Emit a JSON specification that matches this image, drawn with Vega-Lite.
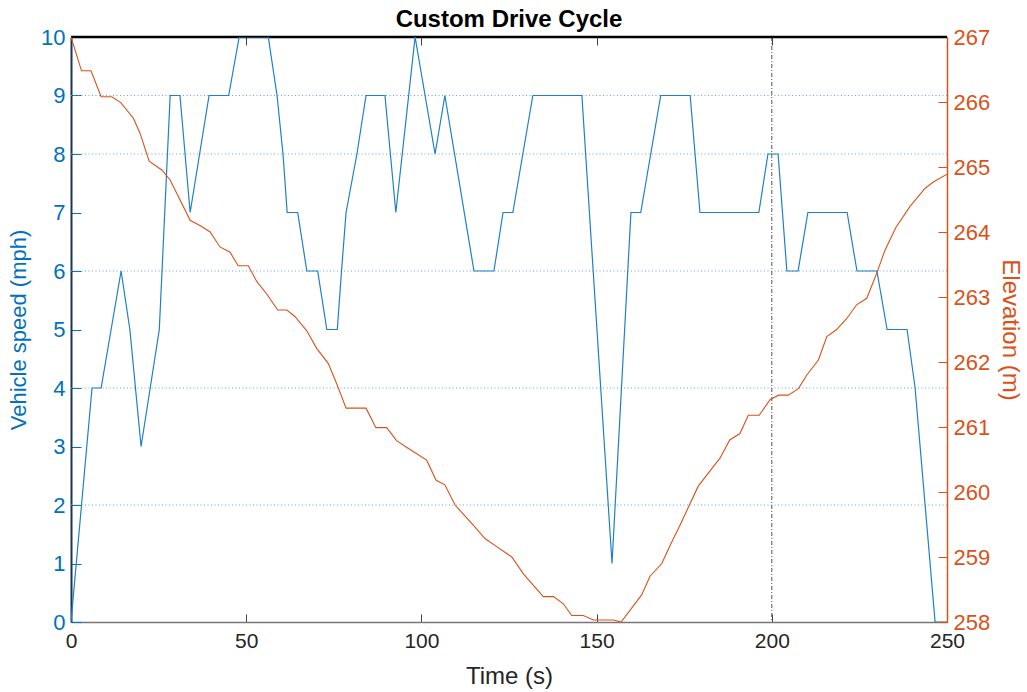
{
  "$schema": "https://vega.github.io/schema/vega-lite/v6.json",
  "width": 876,
  "height": 585,
  "autosize": {"type": "none"},
  "padding": {"left": 71, "top": 37, "right": 80, "bottom": 70},
  "background": "white",
  "title": {
    "text": "Custom Drive Cycle",
    "font": "Liberation Sans",
    "fontSize": 24,
    "fontWeight": "bold",
    "color": "#000000",
    "offset": -6
  },
  "config": {
    "view": {"stroke": null},
    "axis": {
      "labelFont": "Liberation Sans",
      "titleFont": "Liberation Sans",
      "grid": false
    }
  },
  "datasets": {
    "speed": [
      {"t": 0, "v": 0}, {"t": 6, "v": 4}, {"t": 8.6, "v": 4}, {"t": 14.3, "v": 6},
      {"t": 16.8, "v": 5}, {"t": 20, "v": 3}, {"t": 25.2, "v": 5}, {"t": 28.3, "v": 9},
      {"t": 31.1, "v": 9}, {"t": 34, "v": 7}, {"t": 39.4, "v": 9}, {"t": 45, "v": 9},
      {"t": 48, "v": 10}, {"t": 56.3, "v": 10}, {"t": 58.8, "v": 9}, {"t": 60.5, "v": 8},
      {"t": 61.7, "v": 7}, {"t": 64.7, "v": 7}, {"t": 67.3, "v": 6}, {"t": 70.4, "v": 6},
      {"t": 73, "v": 5}, {"t": 76, "v": 5}, {"t": 77.2, "v": 6}, {"t": 78.5, "v": 7},
      {"t": 81.6, "v": 8}, {"t": 84.2, "v": 9}, {"t": 89.6, "v": 9}, {"t": 92.7, "v": 7},
      {"t": 98.2, "v": 10}, {"t": 103.9, "v": 8}, {"t": 106.7, "v": 9}, {"t": 115, "v": 6},
      {"t": 120.7, "v": 6}, {"t": 123.3, "v": 7}, {"t": 126.1, "v": 7}, {"t": 131.8, "v": 9},
      {"t": 145.8, "v": 9}, {"t": 154.4, "v": 1}, {"t": 159.8, "v": 7}, {"t": 162.6, "v": 7},
      {"t": 168.3, "v": 9}, {"t": 176.7, "v": 9}, {"t": 179.5, "v": 7}, {"t": 196.3, "v": 7},
      {"t": 198.9, "v": 8}, {"t": 201.8, "v": 8}, {"t": 204.3, "v": 6}, {"t": 207.5, "v": 6},
      {"t": 210.3, "v": 7}, {"t": 221.5, "v": 7}, {"t": 224.3, "v": 6}, {"t": 230, "v": 6},
      {"t": 232.9, "v": 5}, {"t": 238.6, "v": 5}, {"t": 240.9, "v": 4}, {"t": 246.6, "v": 0},
      {"t": 250, "v": 0}
    ],
    "elevation": [
      {"t": 0, "e": 267}, {"t": 3, "e": 266.48}, {"t": 5.7, "e": 266.48}, {"t": 8.6, "e": 266.08},
      {"t": 11.6, "e": 266.08}, {"t": 14.2, "e": 265.99}, {"t": 17.8, "e": 265.75}, {"t": 19.7, "e": 265.52},
      {"t": 22.3, "e": 265.09}, {"t": 26, "e": 264.95}, {"t": 28.3, "e": 264.8}, {"t": 34, "e": 264.18},
      {"t": 36.8, "e": 264.1}, {"t": 39.7, "e": 264.0}, {"t": 42.5, "e": 263.77}, {"t": 45.4, "e": 263.69},
      {"t": 47.7, "e": 263.48}, {"t": 50.6, "e": 263.48}, {"t": 53, "e": 263.24}, {"t": 55.8, "e": 263.05},
      {"t": 59, "e": 262.8}, {"t": 61.6, "e": 262.8}, {"t": 63.9, "e": 262.7}, {"t": 67.3, "e": 262.48},
      {"t": 70.1, "e": 262.21}, {"t": 73.4, "e": 261.98}, {"t": 75.8, "e": 261.67}, {"t": 78.5, "e": 261.29},
      {"t": 84.2, "e": 261.29}, {"t": 87, "e": 260.99}, {"t": 90.1, "e": 260.99}, {"t": 92.9, "e": 260.79},
      {"t": 96.3, "e": 260.67}, {"t": 101.5, "e": 260.49}, {"t": 104.2, "e": 260.18}, {"t": 106.7, "e": 260.11},
      {"t": 109.6, "e": 259.8}, {"t": 114.8, "e": 259.49}, {"t": 118.2, "e": 259.28}, {"t": 121.5, "e": 259.16},
      {"t": 125.8, "e": 259.0}, {"t": 129.1, "e": 258.74}, {"t": 134.8, "e": 258.39}, {"t": 137.7, "e": 258.39},
      {"t": 140.5, "e": 258.28}, {"t": 142.9, "e": 258.1}, {"t": 146.2, "e": 258.1}, {"t": 149.1, "e": 258.03},
      {"t": 154.8, "e": 258.03}, {"t": 157, "e": 258.0}, {"t": 162.9, "e": 258.42}, {"t": 165.2, "e": 258.7},
      {"t": 168.6, "e": 258.9}, {"t": 171, "e": 259.18}, {"t": 173.8, "e": 259.49}, {"t": 179, "e": 260.09},
      {"t": 185.2, "e": 260.52}, {"t": 188, "e": 260.8}, {"t": 190.9, "e": 260.9}, {"t": 193.3, "e": 261.18},
      {"t": 196.4, "e": 261.18}, {"t": 199.5, "e": 261.42}, {"t": 201.9, "e": 261.49}, {"t": 204.7, "e": 261.49},
      {"t": 207.6, "e": 261.59}, {"t": 210, "e": 261.8}, {"t": 213.3, "e": 262.03}, {"t": 215.7, "e": 262.39},
      {"t": 218.5, "e": 262.5}, {"t": 221.4, "e": 262.67}, {"t": 224.2, "e": 262.88}, {"t": 227.1, "e": 262.98},
      {"t": 229.9, "e": 263.36}, {"t": 232.3, "e": 263.72}, {"t": 235.4, "e": 264.07}, {"t": 239.4, "e": 264.39},
      {"t": 243.7, "e": 264.67}, {"t": 246.1, "e": 264.77}, {"t": 250, "e": 264.89}
    ],
    "speedGrid": [{"g": 2}, {"g": 4}, {"g": 6}, {"g": 8}, {"g": 9}],
    "timeGrid": [{"t": 200}],
    "frameTop": [{"t0": 0, "t1": 250, "v": 10}]
  },
  "layer": [
    {
      "data": {"name": "speedGrid"},
      "mark": {"type": "rule", "color": "#5b9bd0", "strokeWidth": 1, "strokeDash": [1, 2.5], "opacity": 0.9},
      "encoding": {
        "y": {"field": "g", "type": "quantitative", "scale": {"domain": [0, 10], "nice": false}, "axis": null}
      }
    },
    {
      "data": {"name": "timeGrid"},
      "mark": {"type": "rule", "color": "#555555", "strokeWidth": 1, "strokeDash": [4, 2, 1, 2]},
      "encoding": {
        "x": {
          "field": "t", "type": "quantitative",
          "scale": {"domain": [0, 250], "nice": false},
          "axis": {
            "orient": "top", "labels": false, "title": null, "domain": false,
            "values": [0, 50, 100, 150, 200, 250],
            "tickSize": -8, "tickColor": "#444444", "tickWidth": 1
          }
        }
      }
    },
    {
      "data": {"name": "frameTop"},
      "mark": {"type": "rule", "color": "#000000", "strokeWidth": 2.5},
      "encoding": {
        "x": {"field": "t0", "type": "quantitative", "scale": {"domain": [0, 250], "nice": false}, "axis": null},
        "x2": {"field": "t1"},
        "y": {"field": "v", "type": "quantitative", "scale": {"domain": [0, 10], "nice": false}, "axis": null}
      }
    },
    {
      "data": {"name": "speed"},
      "mark": {"type": "line", "color": "#1f80c8", "strokeWidth": 1.2, "clip": true},
      "encoding": {
        "x": {
          "field": "t", "type": "quantitative",
          "scale": {"domain": [0, 250], "nice": false},
          "axis": {
            "orient": "bottom", "title": "Time (s)",
            "values": [0, 50, 100, 150, 200, 250],
            "tickSize": -8, "tickColor": "#444444", "tickWidth": 1,
            "domainColor": "#777777", "domainWidth": 1.5,
            "labelFontSize": 21, "labelColor": "#262626", "labelPadding": 16,
            "labelFlush": false,
            "titleFontSize": 24, "titleFontWeight": "normal", "titleColor": "#262626", "titlePadding": 13
          }
        },
        "y": {
          "field": "v", "type": "quantitative",
          "scale": {"domain": [0, 10], "nice": false},
          "axis": {
            "orient": "left", "title": "Vehicle speed (mph)",
            "values": [0, 1, 2, 3, 4, 5, 6, 7, 8, 9, 10],
            "tickSize": -10, "tickColor": "#0072BD", "tickWidth": 1,
            "domainColor": "#1a3550", "domainWidth": 2,
            "labelFontSize": 22, "labelColor": "#0072BD", "labelPadding": 16,
            "labelFlush": false,
            "titleFontSize": 22, "titleFontWeight": "normal", "titleColor": "#0072BD", "titlePadding": 10
          }
        }
      }
    },
    {
      "data": {"name": "elevation"},
      "mark": {"type": "line", "color": "#D95319", "strokeWidth": 1.1, "clip": true},
      "encoding": {
        "x": {"field": "t", "type": "quantitative", "scale": {"domain": [0, 250], "nice": false}, "axis": null},
        "y": {
          "field": "e", "type": "quantitative",
          "scale": {"domain": [258, 267], "nice": false, "zero": false},
          "axis": {
            "orient": "right", "title": "Elevation (m)",
            "values": [258, 259, 260, 261, 262, 263, 264, 265, 266, 267],
            "tickSize": -9, "tickColor": "#D95319", "tickWidth": 1,
            "domainColor": "#D95319", "domainWidth": 1.5,
            "labelFontSize": 22, "labelColor": "#D95319", "labelPadding": 15,
            "labelFlush": false,
            "titleFontSize": 24, "titleFontWeight": "normal", "titleColor": "#D95319", "titlePadding": 8
          }
        }
      }
    }
  ],
  "resolve": {"scale": {"y": "independent"}, "axis": {"x": "independent", "y": "independent"}}
}
